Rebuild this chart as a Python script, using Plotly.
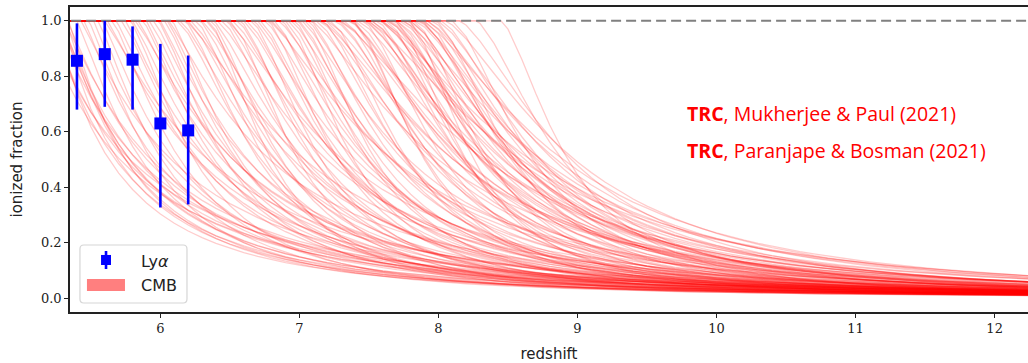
import numpy as np
import plotly.graph_objects as go

# Lyman-alpha constraints on the ionized fraction
lya_z = [5.4, 5.6, 5.8, 6.0, 6.2]
lya_x = [0.856, 0.88, 0.86, 0.63, 0.605]
lya_err_plus = [0.135, 0.12, 0.12, 0.287, 0.27]
lya_err_minus = [0.176, 0.19, 0.18, 0.303, 0.267]

# CMB-constrained reionization histories: end-of-reionization redshift,
# width and sharpness of the high-redshift tail of each history
hist_zend = [
    5.30, 5.25, 5.32, 5.28, 5.20, 5.34, 5.15, 5.31, 5.22, 5.27, 5.33, 5.18, 5.29, 5.24,
    5.40, 5.45, 5.48, 5.52, 5.55, 5.58, 5.62, 5.65, 5.68, 5.72, 5.75, 5.78, 5.80, 5.84,
    5.87, 5.90, 5.92, 5.95, 5.98, 6.00, 6.03, 6.05, 6.08, 5.43, 5.60, 5.82, 6.06,
    6.12, 6.14, 6.17, 6.20, 6.22, 6.25, 6.28, 6.30, 6.33, 6.36, 6.38, 6.41, 6.44, 6.47,
    6.50, 6.52, 6.55, 6.57, 6.60, 6.62, 6.65, 6.67, 6.70, 6.72, 6.75, 6.77, 6.80, 6.82,
    6.85, 6.87, 6.90, 6.92, 6.94, 6.96, 6.98, 7.00, 7.02, 7.04, 7.06, 7.08, 6.18, 6.48,
    6.78, 7.09, 6.34,
    7.12, 7.14, 7.16, 7.18, 7.20, 7.22, 7.25, 7.27, 7.30, 7.32, 7.35, 7.37, 7.40, 7.42,
    7.45, 7.47, 7.50, 7.52, 7.55, 7.57, 7.60, 7.62, 7.65, 7.67, 7.70, 7.72, 7.75, 7.77,
    7.80, 7.82, 7.85, 7.87, 7.90, 7.92, 7.95, 7.97, 7.28, 7.58, 7.88, 7.38, 7.68, 7.78,
    7.48, 7.15, 7.63,
    7.52, 7.58, 7.64, 7.70, 7.74, 7.79, 7.83, 7.86, 7.46, 7.36, 7.92, 7.99,
    8.02, 8.05, 8.10, 8.15, 8.27, 8.45,
]
hist_width = [
    0.95, 0.92, 1.00, 1.10, 1.20, 0.82, 1.35, 1.25, 1.00, 0.95, 1.15, 1.45, 0.85, 1.30,
    0.80, 0.95, 0.70, 1.05, 0.75, 0.90, 1.20, 0.72, 1.00, 0.85, 1.10, 0.65, 0.92, 1.05,
    0.76, 1.25, 0.84, 0.96, 0.68, 1.15, 0.80, 1.00, 0.72, 1.30, 1.38, 1.22, 1.35,
    0.81, 1.00, 0.69, 0.88, 1.13, 0.63, 0.78, 1.03, 0.84, 0.66, 0.96, 1.21, 0.74, 0.88,
    0.59, 1.06, 0.81, 0.69, 1.00, 0.92, 0.63, 1.13, 0.78, 0.84, 1.03, 0.66, 0.96, 0.74,
    1.25, 0.88, 0.59, 0.81, 1.06, 0.69, 0.92, 0.78, 1.18, 0.63, 1.00, 0.84, 1.32, 1.28,
    1.37, 1.40, 0.55,
    0.84, 1.10, 0.75, 0.96, 1.27, 0.67, 1.01, 0.87, 1.18, 0.80, 1.04, 0.63, 0.93, 1.30,
    0.71, 1.13, 0.84, 1.01, 0.75, 1.38, 0.87, 0.67, 1.10, 0.96, 0.80, 1.21, 0.71, 0.93,
    1.04, 0.63, 1.18, 0.84, 0.75, 1.30, 0.96, 0.67, 1.47, 1.51, 1.42, 0.59, 0.59, 0.54,
    1.55, 1.34, 1.21,
    1.06, 1.23, 0.95, 1.12, 1.40, 1.01, 1.18, 0.90, 1.29, 1.12, 0.95, 1.12,
    0.92, 1.30, 0.72, 1.08, 0.80, 0.62,
]
hist_shape = [
    1.00, 1.00, 1.05, 1.10, 1.05, 1.10, 1.00, 1.10, 1.05, 1.15, 1.10, 1.00, 1.15, 1.05,
    1.20, 1.15, 1.30, 1.10, 1.25, 1.20, 1.15, 1.35, 1.20, 1.30, 1.15, 1.40, 1.25, 1.20,
    1.35, 1.10, 1.30, 1.25, 1.40, 1.15, 1.30, 1.20, 1.35, 1.10, 1.15, 1.20, 1.15,
    1.45, 1.35, 1.50, 1.40, 1.30, 1.55, 1.45, 1.35, 1.40, 1.50, 1.35, 1.30, 1.50, 1.40,
    1.60, 1.35, 1.45, 1.50, 1.35, 1.40, 1.55, 1.30, 1.45, 1.40, 1.35, 1.50, 1.40, 1.45,
    1.30, 1.40, 1.60, 1.45, 1.35, 1.50, 1.40, 1.45, 1.30, 1.55, 1.35, 1.40, 1.30, 1.30,
    1.30, 1.30, 1.60,
    1.50, 1.45, 1.55, 1.50, 1.40, 1.60, 1.50, 1.55, 1.45, 1.55, 1.50, 1.65, 1.50, 1.40,
    1.60, 1.45, 1.55, 1.50, 1.60, 1.40, 1.55, 1.65, 1.45, 1.50, 1.55, 1.45, 1.60, 1.50,
    1.45, 1.65, 1.45, 1.55, 1.60, 1.40, 1.50, 1.65, 1.40, 1.40, 1.40, 1.70, 1.70, 1.70,
    1.40, 1.40, 1.45,
    1.45, 1.40, 1.50, 1.45, 1.40, 1.50, 1.45, 1.55, 1.40, 1.45, 1.50, 1.45,
    1.50, 1.40, 1.55, 1.45, 1.50, 1.50,
]

x_ticks = [6, 7, 8, 9, 10, 11, 12]
y_ticks = [0.0, 0.2, 0.4, 0.6, 0.8, 1.0]

Z_MIN, Z_MAX = 5.35, 12.24
z_grid = np.arange(5.30, 12.45, 0.1)


def history(z_end, width, shape):
    """Ionized fraction: fully ionized below z_end, smooth tail above."""
    z = np.unique(np.concatenate([z_grid, [z_end]]))
    dz = np.clip(z - z_end, 0.0, None)
    xe = (1.0 + (dz / width) ** shape) ** (-2.0 / shape)
    return z, xe


fig = go.Figure()

for ze, w, p in zip(hist_zend, hist_width, hist_shape):
    z, xe = history(ze, w, p)
    fig.add_trace(go.Scatter(
        x=z, y=xe, mode="lines",
        line=dict(color="rgba(255,0,0,0.2)", width=1.3),
        showlegend=False, hoverinfo="skip",
    ))

# fully ionized reference level
fig.add_trace(go.Scatter(
    x=[Z_MIN - 0.1, Z_MAX + 0.1], y=[1.0, 1.0], mode="lines",
    line=dict(color="#808080", width=2, dash="10px,5px"),
    showlegend=False, hoverinfo="skip",
))

fig.add_trace(go.Scatter(
    x=lya_z, y=lya_x, mode="markers",
    marker=dict(symbol="square", size=12, color="#0000ff"),
    error_y=dict(type="data", array=lya_err_plus, arrayminus=lya_err_minus,
                 color="#0000ff", thickness=2.6, width=0),
    showlegend=False, hoverinfo="skip",
))

TEXT_RED = "#ff0000"
fig.add_annotation(
    x=0.642, y=0.652, xref="paper", yref="paper", xanchor="left", yanchor="middle",
    text="<b>TRC</b>, Mukherjee &amp; Paul (2021)", showarrow=False,
    font=dict(family="Open Sans", size=19.5, color=TEXT_RED),
)
fig.add_annotation(
    x=0.642, y=0.531, xref="paper", yref="paper", xanchor="left", yanchor="middle",
    text="<b>TRC</b>, Paranjape &amp; Bosman (2021)", showarrow=False,
    font=dict(family="Open Sans", size=19.5, color=TEXT_RED),
)

# legend box (drawn in paper coordinates of the plot area)
lx0, lx1, ly0, ly1 = 0.0104, 0.1221, 0.0295, 0.2197
rx, ry = 0.004, 0.013
box_path = (
    f"M {lx0 + rx},{ly0} L {lx1 - rx},{ly0} Q {lx1},{ly0} {lx1},{ly0 + ry} "
    f"L {lx1},{ly1 - ry} Q {lx1},{ly1} {lx1 - rx},{ly1} "
    f"L {lx0 + rx},{ly1} Q {lx0},{ly1} {lx0},{ly1 - ry} "
    f"L {lx0},{ly0 + ry} Q {lx0},{ly0} {lx0 + rx},{ly0} Z"
)
fig.add_shape(type="path", path=box_path, xref="paper", yref="paper",
              line=dict(color="#d6d6d6", width=1.2), fillcolor="rgba(255,255,255,0.85)")
# Ly-alpha key: square marker with short error bar
fig.add_shape(type="line", x0=0.0376, x1=0.0376, y0=0.141, y1=0.200,
              xref="paper", yref="paper", line=dict(color="#0000ff", width=2.6))
fig.add_shape(type="rect", x0=0.0324, x1=0.0428, y0=0.154, y1=0.187,
              xref="paper", yref="paper", line=dict(width=0), fillcolor="#0000ff")
# CMB key: translucent red patch
fig.add_shape(type="rect", x0=0.0177, x1=0.0574, y0=0.0689, y1=0.108,
              xref="paper", yref="paper", line=dict(width=0),
              fillcolor="rgba(255,0,0,0.5)")
fig.add_annotation(x=0.0720, y=0.167, xref="paper", yref="paper", xanchor="left",
                   yanchor="middle", text="Ly<i>α</i>", showarrow=False,
                   font=dict(family="DejaVu Sans", size=16, color="#222222"))
fig.add_annotation(x=0.0720, y=0.0885, xref="paper", yref="paper", xanchor="left",
                   yanchor="middle", text="CMB", showarrow=False,
                   font=dict(family="DejaVu Sans", size=16, color="#222222"))

axis_common = dict(
    showline=True, linecolor="#222222", linewidth=1.5,
    ticks="outside", ticklen=4, tickwidth=1.2, tickcolor="#222222",
    showgrid=False, zeroline=False,
    tickfont=dict(family="DejaVu Serif", size=13, color="#222222"),
)

fig.update_xaxes(
    range=[Z_MIN, Z_MAX], tickvals=x_ticks, mirror=True,
    title=dict(text="redshift", font=dict(family="DejaVu Sans", size=15, color="#222222"),
               standoff=14),
    **axis_common,
)
fig.update_yaxes(
    range=[-0.05, 1.05], tickvals=y_ticks, tickformat=".1f",
    title=dict(text="ionized fraction", font=dict(family="DejaVu Sans", size=15, color="#222222"),
               standoff=15),
    **axis_common,
)

fig.update_layout(
    width=1028, height=363,
    margin=dict(l=70, r=0, t=7, b=51),
    plot_bgcolor="white", paper_bgcolor="white",
    showlegend=False,
)

fig.write_html("out.html")
